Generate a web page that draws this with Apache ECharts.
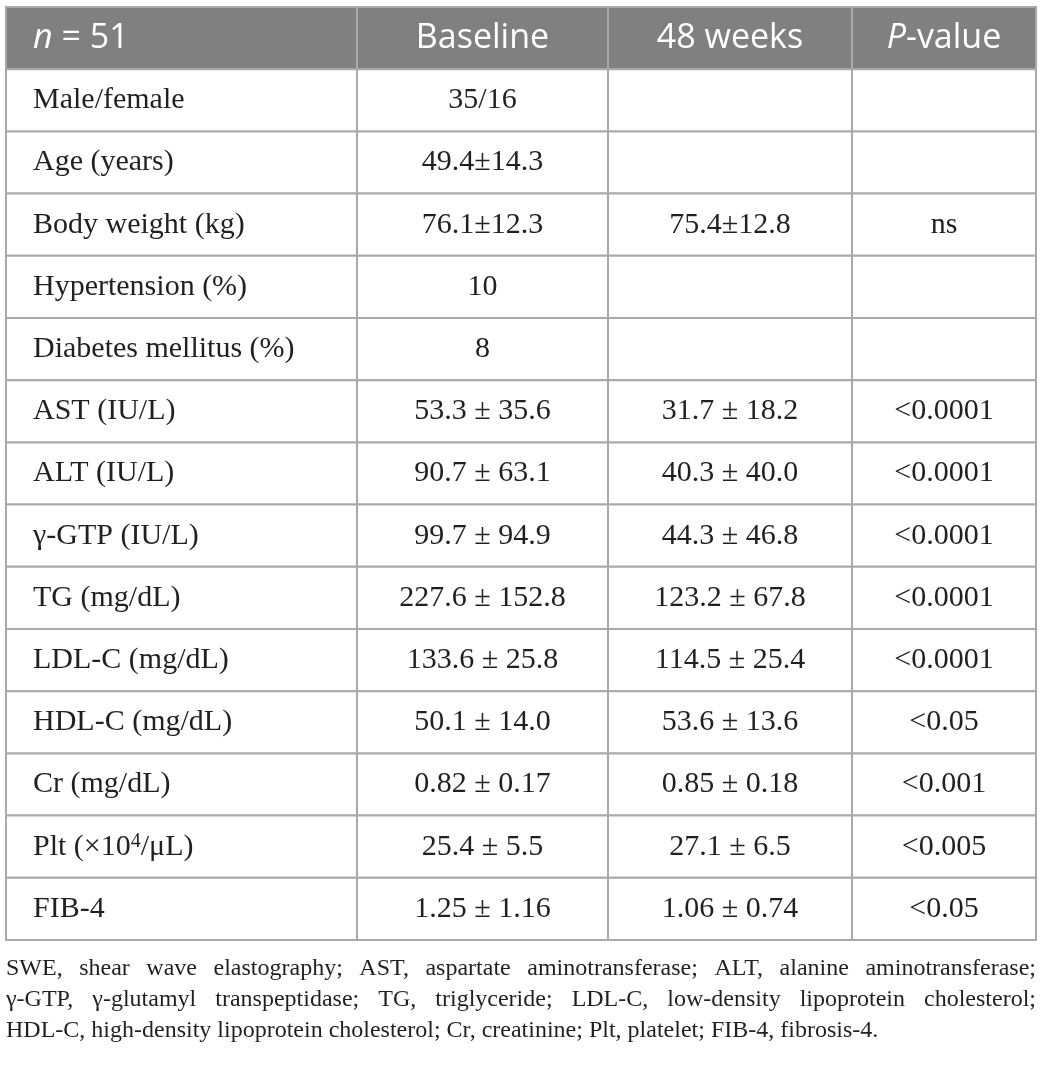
<!DOCTYPE html>
<html>
<head>
<meta charset="utf-8">
<script src="https://cdn.jsdelivr.net/npm/echarts@6/dist/echarts.min.js"></script>
<style>
  html, body { margin: 0; padding: 0; background: #fff; }
  #main { width: 1042px; height: 1069px; }
</style>
</head>
<body>
<div id="main"></div>
<script>
// table content
var headers = ['{i|n} = 51', 'Baseline', '48 weeks', '{i|P}-value'];
var rowLabels = ['Male/female', 'Age (years)', 'Body weight (kg)', 'Hypertension (%)', 'Diabetes mellitus (%)',
  'AST (IU/L)', 'ALT (IU/L)', 'γ-GTP (IU/L)', 'TG (mg/dL)', 'LDL-C (mg/dL)', 'HDL-C (mg/dL)',
  'Cr (mg/dL)', 'Plt (×10{sup|4}/μL)', 'FIB-4'];
var baseline = ['35/16', '49.4±14.3', '76.1±12.3', '10', '8', '53.3 ± 35.6', '90.7 ± 63.1', '99.7 ± 94.9',
  '227.6 ± 152.8', '133.6 ± 25.8', '50.1 ± 14.0', '0.82 ± 0.17', '25.4 ± 5.5', '1.25 ± 1.16'];
var week48 = ['', '', '75.4±12.8', '', '', '31.7 ± 18.2', '40.3 ± 40.0', '44.3 ± 46.8',
  '123.2 ± 67.8', '114.5 ± 25.4', '53.6 ± 13.6', '0.85 ± 0.18', '27.1 ± 6.5', '1.06 ± 0.74'];
var pValues = ['', '', 'ns', '', '', '<0.0001', '<0.0001', '<0.0001', '<0.0001', '<0.0001',
  '<0.05', '<0.001', '<0.005', '<0.05'];
var footnote = [
  'SWE, shear wave elastography; AST, aspartate aminotransferase; ALT, alanine aminotransferase;',
  'γ-GTP, γ-glutamyl transpeptidase; TG, triglyceride; LDL-C, low-density lipoprotein cholesterol;',
  'HDL-C, high-density lipoprotein cholesterol; Cr, creatinine; Plt, platelet; FIB-4, fibrosis-4.'
];

// layout
var colEdges = [0, 351, 602, 846, 1030];
var tableLeft = 6, tableTop = 7, tableWidth = 1030, tableBottom = 940;
var serif = '"Liberation Serif", "DejaVu Serif", serif';
var sans = '"Open Sans", "Noto Sans", sans-serif';

var rows = ['header'].concat(rowLabels);
var cells = [];
rows.forEach(function (name, r) {
  var line = r === 0 ? headers : [rowLabels[r - 1], baseline[r - 1], week48[r - 1], pValues[r - 1]];
  line.forEach(function (t, c) {
    cells.push({ value: [c, r], text: t });
  });
});

function renderCell(params, api) {
  var c = api.value(0), r = api.value(1);
  var item = cells[params.dataIndex];
  var left = api.coord([colEdges[c], r])[0];
  var right = api.coord([colEdges[c + 1], r])[0];
  var cy = api.coord([0, r])[1];
  var h = api.size([0, 1])[1];
  var head = r === 0;
  var fam = head ? sans : serif;
  var size = head ? 34 : 30;
  var color = head ? '#ffffff' : '#231f20';
  return {
    type: 'group',
    children: [{
      type: 'rect',
      shape: { x: left, y: cy - h / 2, width: right - left, height: h },
      style: { fill: head ? '#808080' : '#ffffff', stroke: '#a9a9a9', lineWidth: 2 }
    }, {
      type: 'text',
      style: {
        text: item.text,
        x: c === 0 ? left + 27 : (left + right) / 2,
        y: cy,
        align: c === 0 ? 'left' : 'center',
        verticalAlign: 'middle',
        fontFamily: fam,
        fontSize: size,
        fill: color,
        rich: {
          i: { fontFamily: fam, fontSize: size, fontStyle: 'italic', fill: color },
          sup: { fontFamily: fam, fontSize: 20, fill: color, verticalAlign: 'top' }
        }
      }
    }]
  };
}

// justified footnote lines
var ctx = document.createElement('canvas').getContext('2d');
var noteSize = 24;
ctx.font = noteSize + 'px ' + serif;
var noteY = [969, 1000, 1031];
var noteGraphics = [];
footnote.forEach(function (line, i) {
  var words = line.split(' ');
  var widths = words.map(function (w) { return ctx.measureText(w).width; });
  var total = widths.reduce(function (a, b) { return a + b; }, 0);
  var space = ctx.measureText(' ').width;
  var gap = i < footnote.length - 1 ? (tableWidth - total) / (words.length - 1) : space;
  var x = tableLeft;
  words.forEach(function (w, k) {
    noteGraphics.push({
      type: 'text', left: x, top: noteY[i] - noteSize / 2,
      style: { text: w, font: noteSize + 'px ' + serif, fill: '#231f20' }
    });
    x += widths[k] + gap;
  });
});

var chart = echarts.init(document.getElementById('main'));
var option = {
  animation: false,
  grid: { left: tableLeft, top: tableTop, width: tableWidth, height: tableBottom - tableTop },
  xAxis: { type: 'value', min: 0, max: colEdges[colEdges.length - 1], show: false },
  yAxis: { type: 'category', data: rows, inverse: true, show: false },
  series: [{
    type: 'custom',
    renderItem: renderCell,
    data: cells,
    encode: { x: 0, y: 1 }
  }],
  graphic: noteGraphics
};
chart.setOption(option);
</script>
</body>
</html>
